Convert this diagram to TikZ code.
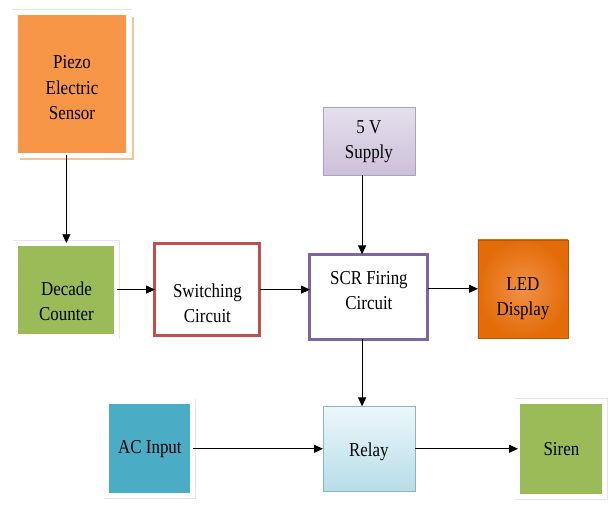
\documentclass[tikz,border=0pt]{standalone}
\usepackage{fontspec}
\setmainfont[FakeStretch=0.86]{Liberation Serif}
\usetikzlibrary{arrows.meta, positioning, shadows}
\definecolor{sensorOrange}{RGB}{247,150,70}
\definecolor{counterGreen}{RGB}{155,187,89}
\definecolor{switchRed}{RGB}{192,80,77}
\definecolor{firingPurple}{RGB}{128,100,162}
\definecolor{supplyTop}{RGB}{229,223,236}
\definecolor{supplyBottom}{RGB}{204,192,218}
\definecolor{ledOrange}{RGB}{227,108,9}
\definecolor{ledInner}{RGB}{242,145,70}
\definecolor{relayTop}{RGB}{236,247,251}
\definecolor{relayBottom}{RGB}{183,221,232}
\definecolor{acTeal}{RGB}{75,172,198}

\begin{document}
\begin{tikzpicture}[
    block/.style={rectangle, align=center, font=\fontsize{14}{17.8}\selectfont, inner sep=2pt, outer sep=0pt},
    framed/.style={block, preaction={draw=black!10, line width=4.6pt}, draw=white, line width=3.6pt},
    outlined/.style={block, fill=white, line width=2.2pt},
    arrow/.style={-{Triangle[length=2.2mm, width=2mm]}, line width=0.6pt}
]
\useasboundingbox (0,0) rectangle (15.2,12.65);

% Top sensor
\node[framed, fill=sensorOrange, minimum width=2.85cm, minimum height=3.575cm,
      drop shadow={fill=brown!60!orange!45, opacity=1, shadow xshift=3.5pt, shadow yshift=-3.5pt},
      label={[block, yshift=-0.1cm]center:{Piezo\\Electric\\Sensor}}]
      (piezo) at (1.8,10.56) {};

% Middle row
\node[framed, fill=counterGreen, minimum width=2.525cm, minimum height=2.325cm,
      below=2.2cm of piezo, xshift=-0.14cm,
      label={[block, yshift=-0.3cm]center:{Decade\\Counter}}] (counter) {};
\node[outlined, draw=switchRed, minimum width=2.625cm, minimum height=2.3cm,
      right=0.95cm of counter,
      label={[block, yshift=-0.33cm]center:{Switching\\Circuit}}] (switching) {};
\node[outlined, draw=firingPurple, minimum width=2.95cm, minimum height=2.125cm,
      right=1.25cm of switching, yshift=-0.18cm,
      label={[block, yshift=0.15cm]center:{SCR Firing\\Circuit}}] (firing) {};
\node[block, draw=ledOrange!80!black, line width=0.4pt, inner color=ledInner, outer color=ledOrange,
      minimum width=2.25cm, minimum height=2.45cm,
      right=1.25cm of firing, yshift=0.2cm,
      label={[block, yshift=-0.25cm]center:{LED\\Display}}] (led) {};

% Supply
\node[block, draw=supplyBottom!85!black, line width=0.4pt, top color=supplyTop, bottom color=supplyBottom,
      minimum width=2.3cm, minimum height=1.7cm, above=1.975cm of firing] (supply) {5 V\\Supply};

% Bottom row
\node[block, draw=relayBottom!80!black, line width=0.4pt, top color=relayTop, bottom color=relayBottom,
      minimum width=2.3cm, minimum height=2.125cm, below=1.675cm of firing,
      label={[block, yshift=-0.08cm]center:Relay}] (relay) {};
\node[framed, fill=acTeal, minimum width=2.15cm, minimum height=2.35cm,
      left=3.25cm of relay] (acin) {AC Input};
\node[framed, fill=counterGreen, minimum width=2.175cm, minimum height=2.375cm,
      right=2.575cm of relay] (siren) {Siren};

% Arrows
\draw[arrow] (counter.north |- piezo.south) -- (counter.north);
\draw[arrow] (counter) -- (switching);
\draw[arrow] (switching.east) -- (switching.east -| firing.west);
\draw[arrow] ([xshift=-0.17cm]supply.south) -- ([xshift=-0.17cm]firing.north);
\draw[arrow] (firing.east |- led.west) -- (led.west);
\draw[arrow] ([xshift=-0.17cm]firing.south) -- ([xshift=-0.17cm]relay.north);
\draw[arrow] (acin) -- (relay);
\draw[arrow] (relay) -- (siren);

\end{tikzpicture}
\end{document}
